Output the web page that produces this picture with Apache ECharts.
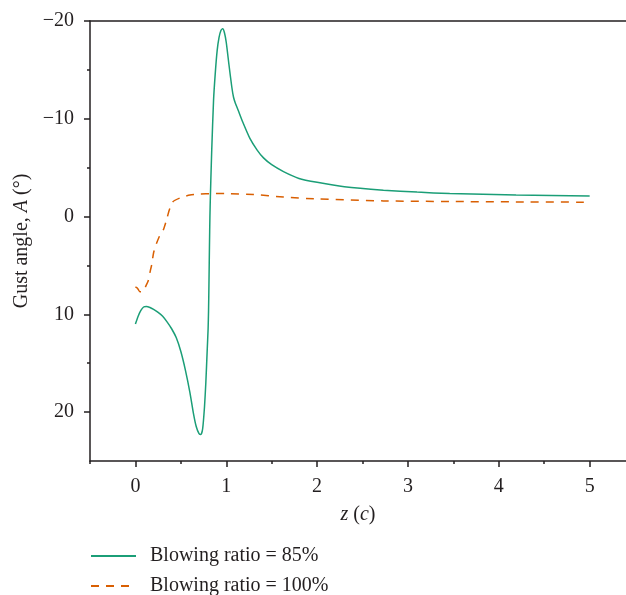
<!DOCTYPE html>
<html>
<head>
<meta charset="utf-8">
<script src="https://cdn.jsdelivr.net/npm/echarts@6/dist/echarts.min.js"></script>
<style>
  html, body { margin: 0; padding: 0; background: #fff; }
  #chart { width: 626px; height: 595px; }
</style>
</head>
<body>
<div id="chart"></div>
<script>
// Gust angle along the chord for two blowing ratios
const zRatio85 = [0, 0.03, 0.06, 0.09, 0.12, 0.16, 0.2, 0.25, 0.3, 0.35, 0.4, 0.45, 0.5, 0.55, 0.6, 0.64, 0.67, 0.7, 0.72, 0.74, 0.76, 0.775, 0.79, 0.8, 0.805, 0.81, 0.815, 0.82, 0.825, 0.83, 0.84, 0.86, 0.88, 0.9, 0.92, 0.94, 0.96, 0.98, 1.0, 1.03, 1.06, 1.08, 1.1, 1.13, 1.18, 1.26, 1.34, 1.41, 1.5, 1.63, 1.8, 2.0, 2.3, 2.73, 3.1, 3.46, 4.19, 5.0];
const gustRatio85 = [11.0, 10.2, 9.6, 9.25, 9.2, 9.3, 9.5, 9.8, 10.2, 10.8, 11.5, 12.4, 13.8, 15.7, 18.0, 20.2, 21.5, 22.2, 22.3, 21.7, 19.5, 17.0, 13.7, 11.5, 9.6, 6.5, 3.0, 0, -2.0, -3.7, -6.8, -11.9, -14.8, -17.0, -18.3, -19.0, -19.2, -18.8, -17.8, -15.5, -13.3, -12.2, -11.6, -10.9, -9.7, -8.0, -6.8, -6.0, -5.3, -4.6, -3.9, -3.5, -3.05, -2.7, -2.5, -2.35, -2.2, -2.1];

const zRatio100 = [0, 0.02, 0.05, 0.08, 0.11, 0.14, 0.165, 0.18, 0.2, 0.23, 0.27, 0.31, 0.35, 0.37, 0.41, 0.49, 0.6, 0.7, 0.85, 1.0, 1.3, 1.63, 2.0, 2.73, 3.46, 4.19, 5.0];
const gustRatio100 = [7.2, 7.3, 7.7, 7.7, 7.2, 6.6, 5.5, 4.9, 3.7, 2.8, 1.9, 1.3, 0.1, -0.6, -1.5, -1.9, -2.2, -2.3, -2.35, -2.35, -2.25, -2.0, -1.8, -1.6, -1.54, -1.5, -1.47];

const seriesNames = ['Blowing ratio = 85%', 'Blowing ratio = 100%'];
const xMajorTicks = [0, 1, 2, 3, 4, 5];
const xMinorTicks = [-0.5, 0.5, 1.5, 2.5, 3.5, 4.5];
const yMajorTicks = [-20, -10, 0, 10, 20];
const yMinorTicks = [-15, -5, 5, 15];

const pairs = (xs, ys) => xs.map((x, i) => [x, ys[i]]);

const FONT = 'Liberation Serif';
const FS = 20;
const INK = '#231f20';
const minus = v => String(v).replace('-', '\u2212');

const chart = echarts.init(document.getElementById('chart'), null, { renderer: 'canvas' });

const xBase = {
  type: 'value', min: -0.5, max: 5.4, position: 'bottom',
  axisLine: { show: true, onZero: false, lineStyle: { color: INK, width: 1.5 } },
  splitLine: { show: false }
};
const yBase = {
  type: 'value', min: -20, max: 25, inverse: true, position: 'left',
  axisLine: { show: true, onZero: false, lineStyle: { color: INK, width: 1.5 } },
  splitLine: { show: false }
};

const legendBase = {
  orient: 'vertical', left: 90, padding: 0,
  itemWidth: 45, itemHeight: 14,
  itemStyle: { opacity: 0 },
  textStyle: { fontFamily: FONT, fontSize: FS, color: INK, padding: [0, 0, 0, 9] }
};

const italicRich = { i: { fontFamily: FONT, fontSize: FS, fontStyle: 'italic', color: INK } };

chart.setOption({
  animation: false,
  backgroundColor: '#fff',
  grid: { left: 90, top: 21, right: 0, bottom: 134 },
  legend: [
    Object.assign({}, legendBase, { top: 546, data: [seriesNames[0]] }),
    Object.assign({}, legendBase, { top: 576, data: [seriesNames[1]] })
  ],
  xAxis: [
    Object.assign({}, xBase, {
      name: '{i|z} ({i|c})',
      nameLocation: 'middle', nameGap: 44,
      nameTextStyle: { fontFamily: FONT, fontSize: FS, color: INK, rich: italicRich },
      axisTick: { show: true, length: 6, customValues: xMajorTicks, lineStyle: { color: INK, width: 1.5 } },
      axisLabel: { customValues: xMajorTicks, margin: 16, fontFamily: FONT, fontSize: FS, color: INK }
    }),
    Object.assign({}, xBase, {
      axisLine: { show: false, onZero: false },
      axisTick: { show: true, length: 3, customValues: xMinorTicks, lineStyle: { color: INK, width: 1.5 } },
      axisLabel: { show: false }
    }),
    Object.assign({}, xBase, {
      position: 'top',
      axisTick: { show: false },
      axisLabel: { show: false }
    })
  ],
  yAxis: [
    Object.assign({}, yBase, {
      name: 'Gust angle, {i|A} (°)',
      nameLocation: 'middle', nameGap: 57,
      nameTextStyle: { fontFamily: FONT, fontSize: FS, color: INK, rich: italicRich },
      axisTick: { show: true, length: 6, customValues: yMajorTicks, lineStyle: { color: INK, width: 1.5 } },
      axisLabel: { customValues: yMajorTicks, margin: 16, fontFamily: FONT, fontSize: FS, color: INK, formatter: minus }
    }),
    Object.assign({}, yBase, {
      axisLine: { show: false, onZero: false },
      axisTick: { show: true, length: 3, customValues: yMinorTicks, lineStyle: { color: INK, width: 1.5 } },
      axisLabel: { show: false }
    })
  ],
  series: [
    {
      name: seriesNames[0], type: 'line', xAxisIndex: 0, yAxisIndex: 0,
      data: pairs(zRatio85, gustRatio85),
      showSymbol: false, symbol: 'none', smooth: 0.2,
      color: '#1b9e77',
      lineStyle: { color: '#1b9e77', width: 1.5 }
    },
    {
      name: seriesNames[1], type: 'line', xAxisIndex: 0, yAxisIndex: 0,
      data: pairs(zRatio100, gustRatio100),
      showSymbol: false, symbol: 'none', smooth: 0.2,
      color: '#d95f02',
      lineStyle: { color: '#d95f02', width: 1.5, type: [8, 7] }
    }
  ]
});
</script>
</body>
</html>
